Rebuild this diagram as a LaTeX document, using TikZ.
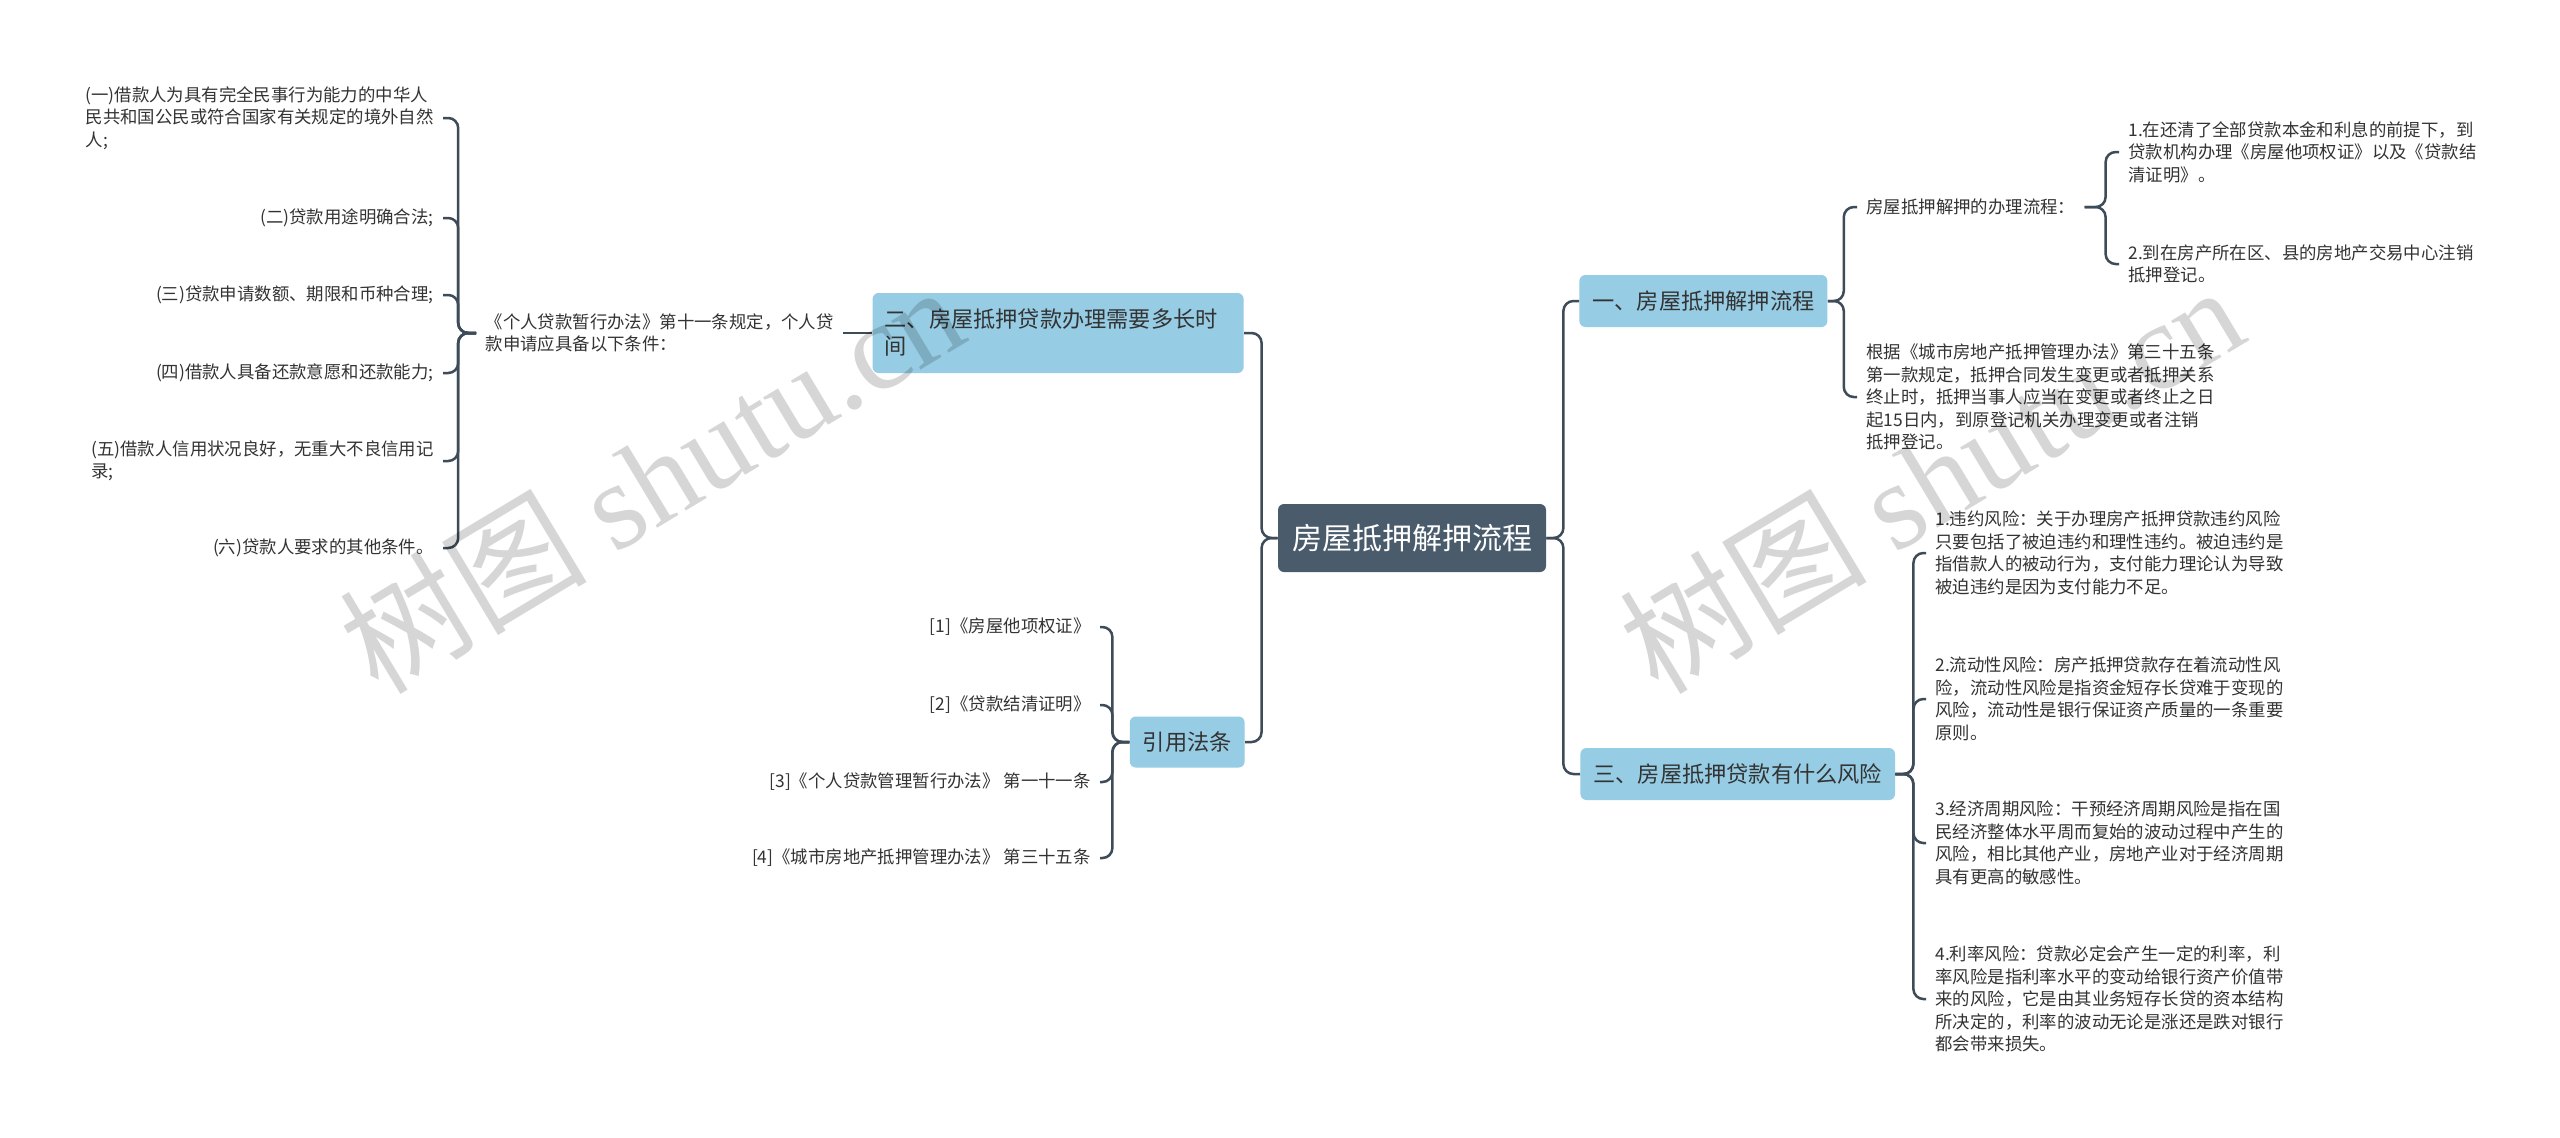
\documentclass[tikz,border=0pt]{standalone}
\usepackage{fontspec}
\setmainfont{Noto Sans CJK SC}
\newfontfamily\wmserif{Liberation Serif}
\usetikzlibrary{positioning}
\definecolor{rootslate}{HTML}{4A5B6B}
\definecolor{topicblue}{HTML}{96CCE4}
\definecolor{linkgray}{HTML}{3E4B58}
\definecolor{inkgray}{HTML}{333333}

\begin{document}
\begin{tikzpicture}[x=0.5pt, y=-0.5pt,
    link/.style={draw=linkgray, line width=1.25pt, rounded corners=5pt},
    rootbox/.style={fill=rootslate, text=white, rounded corners=3pt, minimum width=134pt, minimum height=34pt, font=\fontsize{15pt}{18pt}\selectfont},
    topicbox/.style={fill=topicblue, text=inkgray, rounded corners=3pt, minimum height=26pt, inner xsep=6.5pt, align=left, font=\fontsize{11.1pt}{13.5pt}\selectfont},
    leaf/.style={text=inkgray, inner xsep=4.5pt, inner ysep=1pt, align=left, font=\fontsize{8.7pt}{11.25pt}\selectfont},
    watermark/.style={text=black, text opacity=0.16, rotate=31, anchor=base west, font=\fontsize{62pt}{64pt}\selectfont}]
  \useasboundingbox (0,0) rectangle (2560,1137);
  \fill[white] (0,0) rectangle (2560,1137);

  % centre topic
  \node[rootbox] (root) at (1412,538) {房屋抵押解押流程};

  % main topics
  \node[topicbox, anchor=west] (flow) at (1579,301) {一、房屋抵押解押流程};
  \node[topicbox, anchor=west] (risk) at (1580,774) {三、房屋抵押贷款有什么风险};
  \node[topicbox, anchor=east, text width=173.5pt, inner xsep=6pt, minimum height=40pt] (howlong) at (1244,333) {二、房屋抵押贷款办理需要多长时\\间};
  \node[topicbox, anchor=east, align=center, minimum width=56pt, minimum height=25.5pt] (laws) at (1245,742) {引用法条};

  % 一
  \node[leaf, anchor=west] (steps) at (1857,207) {房屋抵押解押的办理流程：};
  \node[leaf, anchor=west] (rule35) at (1857,397) {根据《城市房地产抵押管理办法》第三十五条\\第一款规定，抵押合同发生变更或者抵押关系\\终止时，抵押当事人应当在变更或者终止之日\\起15日内，到原登记机关办理变更或者注销\\抵押登记。};
  \node[leaf, anchor=west] (stepA) at (2119,152) {1.在还清了全部贷款本金和利息的前提下，到\\贷款机构办理《房屋他项权证》以及《贷款结\\清证明》。};
  \node[leaf, anchor=west] (stepB) at (2119,264) {2.到在房产所在区、县的房地产交易中心注销\\抵押登记。};

  % 三
  \node[leaf, anchor=west] (riskA) at (1926,553) {1.违约风险：关于办理房产抵押贷款违约风险\\只要包括了被迫违约和理性违约。被迫违约是\\指借款人的被动行为，支付能力理论认为导致\\被迫违约是因为支付能力不足。};
  \node[leaf, anchor=west] (riskB) at (1926,699) {2.流动性风险：房产抵押贷款存在着流动性风\\险，流动性风险是指资金短存长贷难于变现的\\风险，流动性是银行保证资产质量的一条重要\\原则。};
  \node[leaf, anchor=west] (riskC) at (1926,843) {3.经济周期风险：干预经济周期风险是指在国\\民经济整体水平周而复始的波动过程中产生的\\风险，相比其他产业，房地产业对于经济周期\\具有更高的敏感性。};
  \node[leaf, anchor=west] (riskD) at (1926,999) {4.利率风险：贷款必定会产生一定的利率，利\\率风险是指利率水平的变动给银行资产价值带\\来的风险，它是由其业务短存长贷的资本结构\\所决定的，利率的波动无论是涨还是跌对银行\\都会带来损失。};

  % 二
  \node[leaf, anchor=east] (cond) at (843,333) {《个人贷款暂行办法》第十一条规定，个人贷\\款申请应具备以下条件：};
  \node[leaf, anchor=east] (condA) at (443,118) {(一)借款人为具有完全民事行为能力的中华人\\民共和国公民或符合国家有关规定的境外自然\\人;};
  \node[leaf, anchor=east] (condB) at (443,218) {(二)贷款用途明确合法;};
  \node[leaf, anchor=east] (condC) at (443,295) {(三)贷款申请数额、期限和币种合理;};
  \node[leaf, anchor=east] (condD) at (443,373) {(四)借款人具备还款意愿和还款能力;};
  \node[leaf, anchor=east] (condE) at (443,461) {(五)借款人信用状况良好，无重大不良信用记\\录;};
  \node[leaf, anchor=east] (condF) at (443,548) {(六)贷款人要求的其他条件。};

  % 引用法条
  \node[leaf, anchor=east] (lawA) at (1100,627) {[1]《房屋他项权证》};
  \node[leaf, anchor=east] (lawB) at (1100,705) {[2]《贷款结清证明》};
  \node[leaf, anchor=east] (lawC) at (1100,782) {[3]《个人贷款管理暂行办法》 第一十一条};
  \node[leaf, anchor=east] (lawD) at (1100,858) {[4]《城市房地产抵押管理办法》 第三十五条};

  % connectors
  \foreach \t in {flow,risk}
    \draw[link] (root.east) -- ++(17,0) |- (\t.west);
  \foreach \t in {howlong,laws}
    \draw[link] (root.west) -- ++(-16,0) |- (\t.east);
  \foreach \t in {steps,rule35}
    \draw[link] (flow.east) -- ++(16,0) |- (\t.west);
  \foreach \t in {stepA,stepB}
    \draw[link] (steps.east) -- ++(21,0) |- (\t.west);
  \foreach \t in {riskA,riskB,riskC,riskD}
    \draw[link] (risk.east) -- ++(18,0) |- (\t.west);
  \draw[link] (howlong.west) -- (cond.east);
  \foreach \t in {condA,condB,condC,condD,condE,condF}
    \draw[link] (cond.west) -- ++(-18,0) |- (\t.east);
  \foreach \t in {lawA,lawB,lawC,lawD}
    \draw[link] (laws.west) -- ++(-17,0) |- (\t.east);

  % watermarks
  \node[watermark] (markL) at (372,700) {树图 {\wmserif shutu.cn}};
  \node[watermark] (markR) at (1652,700) {树图 {\wmserif shutu.cn}};
\end{tikzpicture}
\end{document}
